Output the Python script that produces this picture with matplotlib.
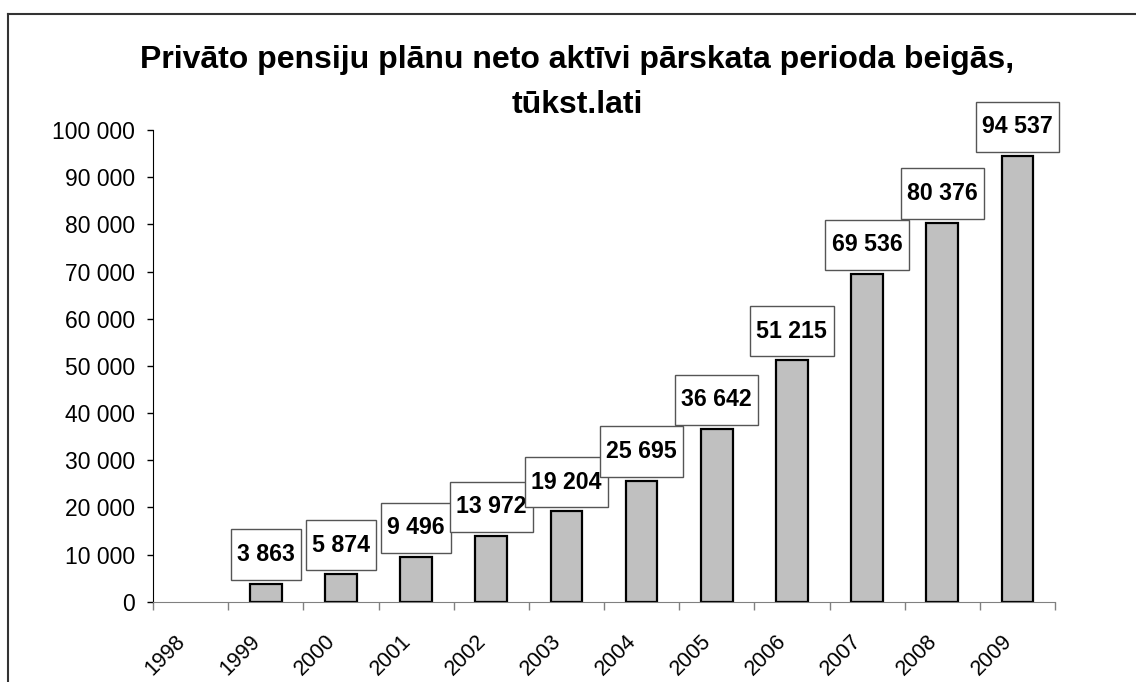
import numpy as np
import matplotlib
matplotlib.use('Agg')
import matplotlib.pyplot as plt
import matplotlib.transforms as mtransforms
from matplotlib.path import Path
from matplotlib.lines import Line2D

# dati
years = ['1998', '1999', '2000', '2001', '2002', '2003', '2004', '2005', '2006', '2007', '2008', '2009']
net_assets = [np.nan, 3863, 5874, 9496, 13972, 19204, 25695, 36642, 51215, 69536, 80376, 94537]
y_ticks = [0, 10000, 20000, 30000, 40000, 50000, 60000, 70000, 80000, 90000, 100000]
title_lines = ['Privāto pensiju plānu neto aktīvi pārskata perioda beigās,', 'tūkst.lati']

plt.rcParams['font.family'] = ['Liberation Sans', 'DejaVu Sans']


def fmt(v):
    return f'{v:,.0f}'.replace(',', ' ')


def label_box(x0, y0, width, height, mutation_size):
    # kaste ar atšķirīgu horizontālo un vertikālo atkāpi
    px = 0.27 * mutation_size
    py = 0.585 * mutation_size
    verts = [(x0 - px, y0 - py), (x0 + width + px, y0 - py),
             (x0 + width + px, y0 + height + py), (x0 - px, y0 + height + py),
             (x0 - px, y0 - py)]
    return Path(verts, closed=True)


fig = plt.figure(figsize=(11.36, 6.82), dpi=100)
ax = fig.add_axes([0.1347, 0.1177, 0.794, 0.6917])

x = np.arange(len(years))
ax.bar(x, net_assets, width=0.42, color='#c0c0c0', edgecolor='black', linewidth=1.6, zorder=2)

# vērtību etiķetes
for xi, v in zip(x, net_assets):
    if np.isnan(v):
        continue
    ax.annotate(fmt(v), (xi, v), xytext=(0, 12.6), textcoords='offset points',
                ha='center', va='bottom', fontsize=16.7, fontweight='bold',
                bbox=dict(boxstyle=label_box, facecolor='white', edgecolor='#555555', linewidth=1.0),
                zorder=3)

ax.set_xlim(-0.5, len(years) - 0.5)
ax.set_ylim(0, 100000)

ax.set_yticks(y_ticks)
ax.set_yticklabels([fmt(t) for t in y_ticks], fontsize=16.5)
ax.tick_params(axis='y', length=4.3, width=1.0, pad=8.5, colors='black')

ax.set_xticks(x)
ax.set_xticklabels(years, fontsize=15.5, rotation=45, ha='right', rotation_mode='anchor')
ax.tick_params(axis='x', which='major', length=0, pad=21)
ax.set_xticks(np.arange(-0.5, len(years)), minor=True)
ax.tick_params(axis='x', which='minor', length=5.5, width=1.0, color='#808080')

# gadu etiķetes nedaudz pa kreisi no kategorijas centra
shift = mtransforms.ScaledTranslation(-16 / 100, 0, fig.dpi_scale_trans)
for lbl in ax.get_xticklabels():
    lbl.set_transform(lbl.get_transform() + shift)

for s in ['top', 'right']:
    ax.spines[s].set_visible(False)
ax.spines['left'].set_color('black')
ax.spines['bottom'].set_color('#808080')

# virsraksts divās rindās
for i, line in enumerate(title_lines):
    fig.text(0.508, 1 - (68 + 45 * i) / 682, line, ha='center', va='baseline',
             fontsize=23, fontweight='bold')

# rāmis ap diagrammu (redzama tikai augšējā un kreisā mala)
fig.add_artist(Line2D([8 / 1136, 8 / 1136], [0, 1 - 14 / 682], transform=fig.transFigure,
                      color='#333333', linewidth=1.5))
fig.add_artist(Line2D([8 / 1136, 1], [1 - 14 / 682, 1 - 14 / 682], transform=fig.transFigure,
                      color='#333333', linewidth=1.5))

fig.savefig('out.png', dpi=100)
